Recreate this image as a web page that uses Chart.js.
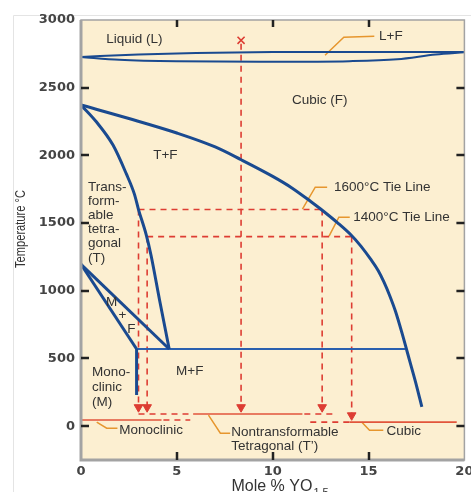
<!DOCTYPE html>
<html>
<head>
<meta charset="utf-8">
<script src="https://cdn.jsdelivr.net/npm/chart.js@4.4.1/dist/chart.umd.min.js"></script>
<style>
  body { margin: 0; background: #fff; }
  #wrap { width: 471px; height: 492px; }
</style>
</head>
<body>
<div id="wrap"><canvas id="phaseChart" width="471" height="492"></canvas></div>
<script>
// ZrO2 - YO1.5 phase diagram (mole %, degC)
const xTicks = [0, 5, 10, 15, 20];
const yTicks = [0, 500, 1000, 1500, 2000, 2500, 3000];

const solidusTop = [[0, 2727], [3, 2745], [6, 2757], [10, 2763], [15, 2764], [20, 2764]];
const solidusBottom = [[0, 2727], [2, 2706], [5, 2695], [10, 2692], [14, 2696], [16.5, 2710], [18.5, 2745], [20, 2762]];
const cubicBoundary = [[0, 2372], [2.5, 2272], [5, 2165], [7, 2062], [8.35, 1968], [10, 1845], [11, 1760], [12, 1658],
  [12.5, 1604], [13.4, 1500], [14.1, 1410], [14.6, 1330], [15.1, 1235], [15.5, 1150], [15.8, 1065], [16.1, 965],
  [16.4, 850], [16.75, 685], [17.15, 480], [17.5, 300], [17.78, 142]];
const tetragonalBoundary = [[0, 2372], [0.8, 2248], [1.67, 2076], [2.36, 1865], [2.79, 1712], [3.0, 1600], [3.4, 1415],
  [3.65, 1264], [4.1, 930], [4.6, 570]];
const mfUpper = [[0, 1195], [4.6, 570]];
const mfLower = [[0, 1195], [2.9, 570]];
const monoclinicEdge = [[2.9, 570], [2.9, 230]];
const eutectoid = [[2.9, 570], [16.9, 570]];

const tieLine1600 = [[3.0, 1600], [12.58, 1600]];
const tieLine1400 = [[3.45, 1400], [14.12, 1400]];
const meltDrop = [[8.35, 2825], [8.35, 140]];
const drops = [
  [[3.0, 1600], [3.0, 140]],
  [[3.45, 1400], [3.45, 140]],
  [[12.58, 1600], [12.58, 140]],
  [[14.12, 1400], [14.12, 80]],
];
const arrowTips = [[3.0, 140], [3.45, 140], [8.35, 140], [12.58, 140], [14.12, 80]];
const meltMark = [[8.35, 2850]];

const monoclinicSolid = [[0, 45], [4.2, 45]];
const monoclinicDashed = [[4.3, 45], [5.7, 45]];
const tPrimeDashedLeft = [[3.0, 90], [5.7, 90]];
const tPrimeSolid = [[5.85, 90], [11.55, 90]];
const tPrimeDashedRight = [[11.65, 90], [13.25, 90]];
const cubicDashed = [[11.96, 30], [14.0, 30]];
const cubicSolid = [[14.0, 30], [19.6, 30]];

const leaders = [
  [[12.73, 2740], [13.71, 2873], [15.3, 2880]],
  [[11.55, 1603], [12.22, 1765], [12.84, 1765]],
  [[12.94, 1403], [13.45, 1543], [14.02, 1543]],
  [[0.82, 30], [1.34, -15], [1.9, -15]],
  [[6.65, 81], [7.27, -52], [7.78, -52]],
  [[14.64, 30], [15.05, -30], [15.77, -30]],
];

const regionLabels = [
  ['Liquid (L)', 2.78, 2858, 'center'],
  ['L+F', 15.55, 2880, 'left'],
  ['Cubic (F)', 12.45, 2407, 'center'],
  ['T+F', 4.4, 2001, 'center'],
  ['Trans-', 0.36, 1765, 'left'],
  ['form-', 0.36, 1662, 'left'],
  ['able', 0.36, 1558, 'left'],
  ['tetra-', 0.36, 1455, 'left'],
  ['gonal', 0.36, 1351, 'left'],
  ['(T)', 0.36, 1241, 'left'],
  ['M', 1.6, 916, 'center'],
  ['+', 2.16, 820, 'center'],
  ['F', 2.63, 716, 'center'],
  ['M+F', 5.67, 406, 'center'],
  ['Mono-', 0.57, 399, 'left'],
  ['clinic', 0.57, 288, 'left'],
  ['(M)', 0.57, 177, 'left'],
  ['1600°C Tie Line', 13.2, 1765, 'left'],
  ['1400°C Tie Line', 14.2, 1543, 'left'],
  ['Monoclinic', 2.0, -28, 'left'],
  ['Nontransformable', 7.84, -43, 'left'],
  ['Tetragonal (T’)', 7.84, -147, 'left'],
  ['Cubic', 15.93, -36, 'left'],
];

const BLUE = '#1a4a90';
const RED = '#dd3d33';
const ORANGE = '#e6962e';

const datasets = [];
function addLine(points, style) {
  datasets.push(Object.assign({
    data: points.map(([x, y]) => ({ x, y })),
    showLine: true,
    pointRadius: 0,
    fill: false,
    borderColor: BLUE,
    borderWidth: 2,
    tension: 0,
  }, style));
}

const smooth = { borderWidth: 3, cubicInterpolationMode: 'monotone' };
addLine(solidusTop, { borderWidth: 2, cubicInterpolationMode: 'monotone' });
addLine(solidusBottom, { borderWidth: 2, cubicInterpolationMode: 'monotone' });
addLine(cubicBoundary, smooth);
addLine(tetragonalBoundary, smooth);
addLine(mfUpper, { borderWidth: 3 });
addLine(mfLower, { borderWidth: 3 });
addLine(monoclinicEdge, { borderWidth: 3 });
addLine(eutectoid, { borderWidth: 2, borderColor: '#2a5fae' });

const dashed = { borderColor: RED, borderWidth: 1.6, borderDash: [6, 5] };
addLine(tieLine1600, dashed);
addLine(tieLine1400, dashed);
addLine(meltDrop, dashed);
drops.forEach((d) => addLine(d, dashed));

addLine(monoclinicSolid, { borderColor: '#e2553b', borderWidth: 1.6 });
addLine(monoclinicDashed, dashed);
addLine(tPrimeDashedLeft, dashed);
addLine(tPrimeSolid, { borderColor: '#e2553b', borderWidth: 1.6 });
addLine(tPrimeDashedRight, dashed);
addLine(cubicDashed, dashed);
addLine(cubicSolid, { borderColor: '#e2553b', borderWidth: 1.6 });

leaders.forEach((l) => addLine(l, { borderColor: ORANGE, borderWidth: 1.5 }));

datasets.push({
  data: arrowTips.map(([x, y]) => ({ x, y })),
  showLine: false,
  pointStyle: 'triangle',
  rotation: 180,
  pointRadius: 5,
  backgroundColor: RED,
  borderColor: RED,
  borderWidth: 1,
});
datasets.push({
  data: meltMark.map(([x, y]) => ({ x, y })),
  showLine: false,
  pointStyle: 'crossRot',
  pointRadius: 5,
  borderColor: RED,
  borderWidth: 1.6,
});

const paper = {
  id: 'paper',
  beforeDraw(chart) {
    const { ctx, chartArea: a } = chart;
    ctx.save();
    ctx.fillStyle = '#fff';
    ctx.fillRect(0, 0, chart.width, chart.height);
    ctx.strokeStyle = '#e4e4e4';
    ctx.lineWidth = 1;
    ctx.beginPath();
    ctx.moveTo(13.5, chart.height);
    ctx.lineTo(13.5, 15.5);
    ctx.lineTo(chart.width, 15.5);
    ctx.stroke();
    ctx.fillStyle = '#fcefd1';
    ctx.fillRect(a.left, a.top, a.right - a.left, a.bottom - a.top);
    ctx.restore();
  },
  afterDatasetsDraw(chart) {
    const { ctx, chartArea: a, scales } = chart;
    const xs = scales.x;
    const ys = scales.y;
    ctx.save();

    // frame
    ctx.strokeStyle = '#a3a3a3';
    ctx.lineWidth = 1.5;
    ctx.strokeRect(a.left, a.top, a.right - a.left, a.bottom - a.top);
    ctx.lineWidth = 3;
    ctx.beginPath();
    ctx.moveTo(a.left, a.top);
    ctx.lineTo(a.left, a.bottom);
    ctx.lineTo(a.right, a.bottom);
    ctx.stroke();

    // inward ticks
    ctx.strokeStyle = '#222';
    ctx.lineWidth = 2.5;
    ctx.beginPath();
    yTicks.filter((v) => v < 3000).forEach((v) => {
      const py = Math.round(ys.getPixelForValue(v));
      ctx.moveTo(a.left, py); ctx.lineTo(a.left + 8, py);
      ctx.moveTo(a.right - 8, py); ctx.lineTo(a.right, py);
    });
    xTicks.filter((v) => v > 0 && v < 20).forEach((v) => {
      const px = Math.round(xs.getPixelForValue(v));
      ctx.moveTo(px, a.top); ctx.lineTo(px, a.top + 7);
      ctx.moveTo(px, a.bottom - 8); ctx.lineTo(px, a.bottom);
    });
    ctx.stroke();

    // region labels
    ctx.fillStyle = '#333';
    ctx.font = '13.5px "Liberation Sans", Arial, sans-serif';
    ctx.textBaseline = 'middle';
    regionLabels.forEach(([text, x, y, align]) => {
      ctx.textAlign = align;
      ctx.fillText(text, xs.getPixelForValue(x), ys.getPixelForValue(y));
    });

    // axis titles
    ctx.font = '16px "Liberation Sans", Arial, sans-serif';
    ctx.textAlign = 'left';
    ctx.textBaseline = 'alphabetic';
    const tx = xs.getPixelForValue(7.85);
    ctx.fillText('Mole % YO', tx, 491);
    const w = ctx.measureText('Mole % YO').width;
    ctx.font = '11px "Liberation Sans", Arial, sans-serif';
    ctx.fillText('1.5', tx + w + 1, 496);

    ctx.translate(21, 229);
    ctx.rotate(-Math.PI / 2);
    ctx.scale(0.74, 1);
    ctx.font = '15px "Liberation Sans", Arial, sans-serif';
    ctx.textAlign = 'center';
    ctx.textBaseline = 'middle';
    ctx.fillText('Temperature °C', 0, 0);
    ctx.restore();
  },
};

const tickFont = { family: '"DejaVu Sans", Verdana, sans-serif', size: 13, weight: 'bold' };

new Chart(document.getElementById('phaseChart'), {
  type: 'scatter',
  data: { datasets },
  options: {
    responsive: false,
    devicePixelRatio: 1,
    animation: false,
    events: [],
    layout: { padding: { top: 20, right: 3, left: 0, bottom: 0 } },
    plugins: {
      legend: { display: false },
      tooltip: { enabled: false },
    },
    scales: {
      x: {
        type: 'linear',
        min: 0,
        max: 20,
        grid: { display: false, drawTicks: false },
        border: { display: false },
        ticks: { stepSize: 5, padding: 4, color: '#444', font: tickFont, maxRotation: 0, autoSkip: false,
          callback: (v) => String(v) },
        afterBuildTicks: (s) => { s.ticks = xTicks.map((value) => ({ value })); },
        afterFit: (s) => { s.height = 32; s.paddingLeft = 0; s.paddingRight = 0; },
      },
      y: {
        type: 'linear',
        min: -250,
        max: 3000,
        grid: { display: false, drawTicks: false },
        border: { display: false },
        ticks: { stepSize: 500, padding: 6, color: '#444', font: tickFont, autoSkip: false,
          callback: (v) => String(v) },
        afterBuildTicks: (s) => { s.ticks = yTicks.map((value) => ({ value })); },
        afterFit: (s) => { s.width = 81; s.paddingTop = 0; s.paddingBottom = 0; },
      },
    },
  },
  plugins: [paper],
});
</script>
</body>
</html>
